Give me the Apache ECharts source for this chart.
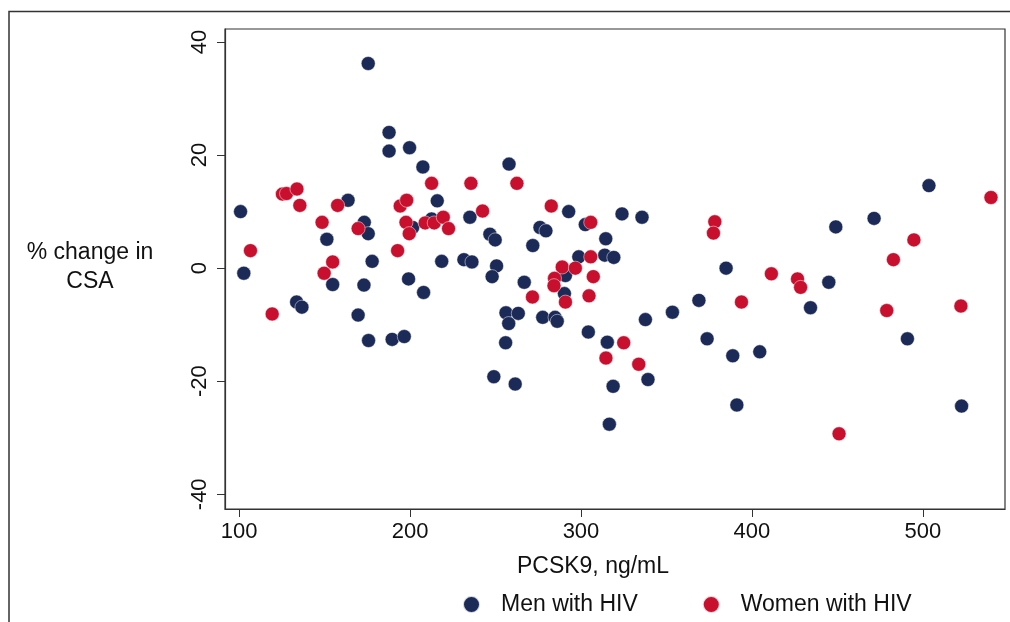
<!DOCTYPE html>
<html>
<head>
<meta charset="utf-8">
<title>PCSK9 vs % change in CSA</title>
<script src="https://cdn.jsdelivr.net/npm/echarts@6/dist/echarts.min.js"></script>
<style>
  html, body { margin: 0; padding: 0; background: #fff; }
  #main { width: 1010px; height: 622px; }
</style>
</head>
<body>
<div id="main"></div>
<script>
// values
var menX = [175.5, 187.7, 187.7, 199.7, 207.5, 215.9, 163.7, 100.8, 235.0, 173.2,
            175.5, 201.5, 212.6, 151.3, 177.8, 218.5, 231.5, 236.2, 102.7, 199.1,
            154.7, 173.0, 207.9, 133.6, 136.7, 169.6, 175.7, 189.5, 196.6, 257.9,
            292.8, 324.0, 335.7, 302.5, 246.7, 249.8, 276.0, 279.5, 271.8, 314.5,
            250.6, 248.0, 298.7, 313.9, 319.2, 266.8, 290.9, 290.3, 256.1, 263.3,
            257.7, 277.6, 284.8, 286.1, 304.3, 255.9, 315.4, 249.0, 261.5, 318.8,
            316.6, 337.7, 353.5, 369.0, 373.8, 339.2, 503.6, 471.5, 449.1, 384.9,
            445.0, 434.3, 388.8, 404.6, 491.0, 391.2, 522.7];
var menY = [36.2, 24.0, 20.7, 21.3, 17.9, 11.9, 12.0, 10.0, 9.0, 8.1,
            6.1, 7.2, 8.7, 5.1, 1.2, 1.2, 1.5, 1.1, -0.9, -1.9,
            -2.9, -3.0, -4.3, -6.0, -6.9, -8.3, -12.8, -12.6, -12.1, 18.4,
            10.0, 9.6, 9.0, 7.7, 6.0, 5.0, 7.2, 6.6, 4.0, 5.2,
            0.4, -1.5, 2.0, 2.3, 1.9, -2.5, -1.3, -4.5, -7.9, -8.0,
            -9.8, -8.7, -8.7, -9.4, -11.3, -13.2, -13.1, -19.2, -20.5, -20.9,
            -27.6, -9.1, -7.8, -5.7, -12.5, -19.7, 14.6, 8.8, 7.3, 0.0,
            -2.5, -7.0, -15.5, -14.8, -12.5, -24.2, -24.4];

var womenX = [125.3, 127.7, 133.8, 135.5, 157.6, 148.5, 169.6, 106.6, 154.7, 149.7,
              192.7, 194.2, 198.0, 197.6, 199.5, 212.6, 208.8, 214.1, 219.4, 222.5,
              235.6, 119.3, 262.5, 242.4, 282.6, 305.7, 305.7, 289.0, 296.7, 307.2,
              284.5, 284.2, 271.6, 290.9, 304.7, 325.0, 314.6, 333.8, 378.3, 377.5,
              411.4, 426.7, 428.5, 482.8, 494.8, 539.9, 393.9, 478.9, 522.3, 451.0];
var womenY = [13.1, 13.2, 14.0, 11.1, 11.1, 8.1, 7.0, 3.1, 1.1, -0.9,
              3.1, 11.0, 12.0, 8.1, 6.1, 15.0, 8.0, 8.0, 9.0, 7.0,
              15.0, -8.1, 15.0, 10.1, 11.0, 8.1, 2.0, 0.2, 0.0, -1.5,
              -1.8, -3.1, -5.1, -6.0, -4.9, -13.2, -15.9, -17.0, 8.2, 6.2,
              -1.0, -1.9, -3.4, 1.5, 5.0, 12.5, -6.0, -7.5, -6.7, -29.3];

var xTicks = [100, 200, 300, 400, 500];
var yTicks = [-40, -20, 0, 20, 40];

var navy = '#1b2a57';
var red = '#c8102e';
var fontName = '"Liberation Sans", Arial, Helvetica, sans-serif';

function pairs(xs, ys) {
    var out = [];
    for (var i = 0; i < xs.length; i++) {
        out.push([xs[i], ys[i]]);
    }
    return out;
}

var chart = echarts.init(document.getElementById('main'));

var option = {
    backgroundColor: '#fff',
    animation: false,
    textStyle: { fontFamily: fontName, color: '#111' },
    grid: {
        left: 225, right: 5, top: 29, bottom: 113,
        show: true, borderColor: '#333', borderWidth: 1.2,
        containLabel: false
    },
    xAxis: {
        type: 'value',
        min: 91.7, max: 548.1,
        splitLine: { show: false },
        axisLine: { show: true, onZero: false, lineStyle: { color: '#333', width: 1.2 } },
        axisTick: { show: true, length: 8, customValues: xTicks, lineStyle: { color: '#333' } },
        axisLabel: { customValues: xTicks, fontSize: 22, margin: 12, color: '#111', fontFamily: fontName }
    },
    yAxis: {
        type: 'value',
        min: -42.6, max: 42.3,
        splitLine: { show: false },
        axisLine: { show: true, onZero: false, lineStyle: { color: '#333', width: 1.2 } },
        axisTick: { show: true, length: 8, customValues: yTicks, lineStyle: { color: '#333' } },
        axisLabel: { customValues: yTicks, fontSize: 22, margin: 14, rotate: 90, color: '#111', fontFamily: fontName }
    },
    legend: {
        left: 457, top: 588,
        icon: 'circle',
        itemWidth: 17, itemHeight: 17,
        itemGap: 64,
        textStyle: { fontSize: 23, color: '#111', fontFamily: fontName, padding: [0, 0, 0, 16] },
        data: ['Men with HIV', 'Women with HIV']
    },
    graphic: [
        { type: 'polyline', shape: { points: [[9, 640], [9, 11.5], [1020, 11.5]] },
          style: { stroke: '#333', lineWidth: 1.5, fill: null } },
        { type: 'text', x: 90, y: 267,
          style: { text: '% change in\nCSA', font: '23px ' + fontName, fill: '#111',
                   align: 'center', verticalAlign: 'middle', lineHeight: 29 } },
        { type: 'text', x: 593, y: 567,
          style: { text: 'PCSK9, ng/mL', font: '23px ' + fontName, fill: '#111',
                   align: 'center', verticalAlign: 'middle' } }
    ],
    series: [
        {
            name: 'Men with HIV',
            type: 'scatter',
            symbol: 'circle',
            symbolSize: 14,
            itemStyle: { color: navy, borderColor: 'rgba(255,255,255,0.8)', borderWidth: 0.6, opacity: 1 },
            data: pairs(menX, menY)
        },
        {
            name: 'Women with HIV',
            type: 'scatter',
            symbol: 'circle',
            symbolSize: 14,
            itemStyle: { color: red, borderColor: 'rgba(255,255,255,0.8)', borderWidth: 0.6, opacity: 1 },
            data: pairs(womenX, womenY)
        }
    ]
};

chart.setOption(option);
</script>
</body>
</html>
